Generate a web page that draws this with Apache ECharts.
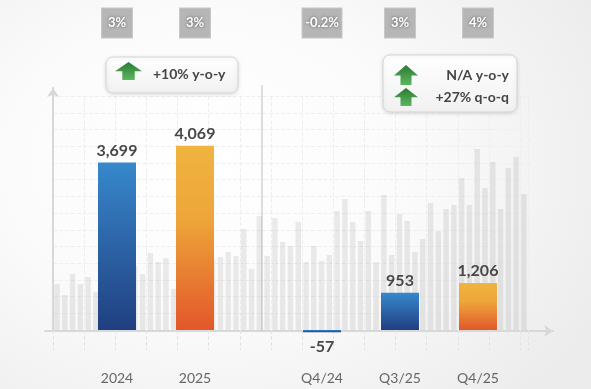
<!DOCTYPE html>
<html>
<head>
<meta charset="utf-8">
<script src="https://cdn.jsdelivr.net/npm/echarts@6/dist/echarts.min.js"></script>
<style>
  html, body { margin: 0; padding: 0; }
  body { width: 591px; height: 389px; overflow: hidden;
    background: radial-gradient(ellipse 75% 85% at 35% 42%, #ffffff 0%, #fbfbfb 45%, #ececec 100%); }
  #chart { width: 591px; height: 389px; }
</style>
</head>
<body>
<div id="chart"></div>
<script>
// ---- data ----
const annualCategories = ['2024', '2025'];
const annualValues = [3699, 4069];
const annualBadges = ['3%', '3%'];

const quarterCategories = ['Q4/24', 'Q3/25', 'Q4/25'];
const quarterValues = [-57, 953, 1206];
const quarterBadges = ['-0.2%', '3%', '4%'];

const annualCallout = ['+10% y-o-y'];
const quarterCallout = ['N/A y-o-y', '+27% q-o-q'];

// decorative background bars (arbitrary units)
const backgroundValues = [
  46, 35, 56, 46, 53, 38, 60, 48, 70, 55, 64, 56, 77, 68, 72, 41,
  66, 80, 74, 88, 70, 73, 78, 74, 101, 61, 114, 74, 112, 88, 84, 108,
  68, 84, 69, 75, 119, 131, 108, 89, 119, 68, 135, 75, 116, 109, 78, 91,
  127, 99, 121, 125, 152, 125, 181, 142, 168, 121, 162, 173, 136
];

// ---- styles ----
const FONT = 'Lato';
function grad(stops) {
  return new echarts.graphic.LinearGradient(0, 0, 0, 1, stops.map(c => ({ offset: c[0], color: c[1] })));
}
const BLUE = () => grad([[0, '#3788cc'], [1, '#203f80']]);
const ORANGE = () => grad([[0, '#f0b43f'], [0.4, '#eea53a'], [1, '#e2572a']]);
const annualColors = [BLUE, ORANGE];
const quarterColors = [BLUE, BLUE, ORANGE];

const fmt = v => v.toLocaleString('en-US');

const valueLabel = {
  show: true, fontFamily: FONT, fontWeight: 'bold', fontSize: 16, color: '#474747',
  formatter: p => fmt(p.value)
};

function barItems(values, colors) {
  return values.map((v, i) => ({
    value: v,
    itemStyle: { color: colors[i]() },
    label: v < 0 ? { position: 'bottom', distance: 7 } : { position: 'top', distance: 4 }
  }));
}

const badgeBase = { align: 'center', color: '#fff', fontFamily: FONT, fontWeight: 'bold', fontSize: 13,
  lineHeight: 15, padding: [8, 3], backgroundColor: '#b6b6b6', borderColor: '#c8c8c8', borderWidth: 1,
  textShadowColor: 'rgba(0,0,0,0.5)', textShadowBlur: 3 };
const badgeLabel = {
  show: true, margin: 6, interval: 0,
  formatter: v => (v.length > 3 ? '{b|' + v + '}' : '{a|' + v + '}'),
  rich: {
    a: Object.assign({ width: 24 }, badgeBase),
    b: Object.assign({ width: 33 }, badgeBase)
  }
};

const hidden = { show: false };
const noLine = { show: false, onZero: false };

function arrowPolygon(x, y, w, h) {
  const head = h * 0.52;
  const stemL = x + w * 0.27, stemR = x + w * 0.73;
  return {
    type: 'polygon',
    shape: { points: [[x, y + head], [x + w / 2, y], [x + w, y + head], [stemR, y + head], [stemR, y + h], [stemL, y + h], [stemL, y + head]] },
    style: { fill: grad([[0, '#2c7a33'], [1, '#5bb75f']]) }
  };
}
const boxStyle = {
  fill: grad([[0, '#ffffff'], [1, '#f1f1f1']]),
  stroke: '#d4d4d4', lineWidth: 1,
  shadowBlur: 4, shadowColor: 'rgba(0,0,0,0.12)', shadowOffsetY: 1
};
const calloutText = { fontFamily: FONT, fontWeight: 'bold', fontSize: 14, fill: '#454545', verticalAlign: 'middle' };

const chart = echarts.init(document.getElementById('chart'), null, { renderer: 'canvas' });
chart.setOption({
  backgroundColor: 'transparent',
  animation: false,
  grid: [
    { left: 53.1, right: 63.2, top: 96.2, bottom: 59, outerBoundsMode: 'none' },   // background
    { left: 78, right: 357, top: 103.5, bottom: 59, outerBoundsMode: 'none' },     // annual
    { left: 283, right: 74, top: 135, bottom: 20, outerBoundsMode: 'none' },       // quarterly
    { left: 45, right: 38, top: 200, bottom: 58, outerBoundsMode: 'none' },        // x arrow
    { left: 53, right: 530, top: 88, bottom: 58, outerBoundsMode: 'none' }         // y arrow
  ],
  xAxis: [
    { gridIndex: 0, type: 'category', data: backgroundValues.map((_, i) => i),
      axisLine: noLine, axisLabel: hidden,
      axisTick: { show: true, interval: 3, length: 20, lineStyle: { color: '#e3e3e3', type: 'dashed' } },
      splitLine: { show: true, interval: 3, lineStyle: { color: '#eeeeee', type: 'dashed' } } },
    { gridIndex: 1, type: 'category', data: annualCategories, axisLine: noLine, axisTick: hidden,
      axisLabel: { show: true, margin: 41, interval: 0, fontFamily: FONT, fontSize: 14, color: '#666' } },
    { gridIndex: 1, type: 'category', position: 'top', offset: 67, data: annualBadges, axisLine: noLine, axisTick: hidden, axisLabel: badgeLabel },
    { gridIndex: 2, type: 'category', data: quarterCategories, axisLine: noLine, axisTick: hidden,
      axisLabel: { show: true, margin: 2, interval: 0, fontFamily: FONT, fontSize: 14, color: '#666' } },
    { gridIndex: 2, type: 'category', position: 'top', offset: 98.5, data: quarterBadges, axisLine: noLine, axisTick: hidden, axisLabel: badgeLabel },
    { gridIndex: 3, type: 'value', min: 0, max: 1, axisLabel: hidden, axisTick: hidden, splitLine: hidden,
      axisLine: { show: true, onZero: false, symbol: ['none', 'arrow'], symbolSize: [9, 9], lineStyle: { color: '#d8d8d8', width: 2 } } },
    { gridIndex: 4, type: 'value', show: false }
  ],
  yAxis: [
    { gridIndex: 0, type: 'value', min: 0, max: 233.8, interval: 16.7, axisLine: noLine, axisLabel: hidden, axisTick: hidden,
      splitLine: { show: true, lineStyle: { color: '#efefef', type: 'dashed' } } },
    { gridIndex: 1, type: 'value', min: 0, max: 5000, show: false },
    { gridIndex: 2, type: 'value', min: -1000, max: 5000, show: false },
    { gridIndex: 3, type: 'value', show: false },
    { gridIndex: 4, type: 'value', min: 0, max: 1, axisLabel: hidden, axisTick: hidden, splitLine: hidden,
      axisLine: { show: true, onZero: false, symbol: ['none', 'arrow'], symbolSize: [9, 9], lineStyle: { color: '#d8d8d8', width: 2 } } }
  ],
  series: [
    { type: 'bar', xAxisIndex: 0, yAxisIndex: 0, data: backgroundValues, barWidth: 5.5, silent: true,
      itemStyle: { color: 'rgba(0,0,0,0.075)' } },
    { type: 'bar', xAxisIndex: 1, yAxisIndex: 1, barWidth: 38, data: barItems(annualValues, annualColors), label: valueLabel, z: 3 },
    { type: 'bar', xAxisIndex: 3, yAxisIndex: 2, barWidth: 38, data: barItems(quarterValues, quarterColors), label: valueLabel, z: 3 }
  ],
  graphic: [
    { type: 'line', shape: { x1: 262, y1: 85, x2: 262, y2: 331 }, style: { stroke: '#bdbdbd', lineWidth: 1 }, z: 1 },
    { type: 'rect', shape: { x: 106, y: 57, width: 132, height: 36, r: 7 }, style: boxStyle, z: 5 },
    Object.assign(arrowPolygon(115, 62, 27, 18), { z: 6 }),
    { type: 'text', x: 153, y: 74, style: Object.assign({ text: annualCallout[0], align: 'left' }, calloutText), z: 6 },
    { type: 'rect', shape: { x: 383, y: 55, width: 134, height: 57, r: 7 }, style: boxStyle, z: 5 },
    Object.assign(arrowPolygon(394, 65, 24, 20), { z: 6 }),
    Object.assign(arrowPolygon(394, 88, 24, 18), { z: 6 }),
    { type: 'text', x: 509, y: 75, style: Object.assign({ text: quarterCallout[0], align: 'right' }, calloutText), z: 6 },
    { type: 'text', x: 509, y: 97, style: Object.assign({ text: quarterCallout[1], align: 'right' }, calloutText), z: 6 }
  ]
});
</script>
</body>
</html>
